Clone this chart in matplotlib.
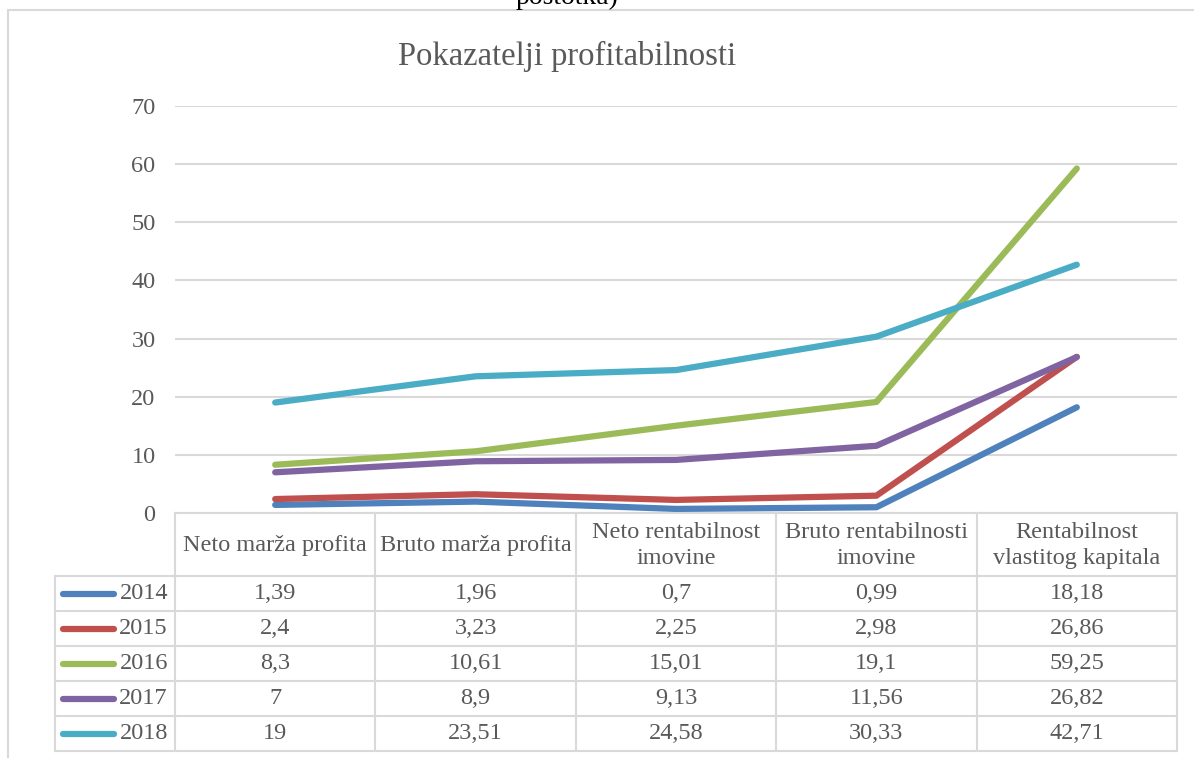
import matplotlib
matplotlib.use("Agg")
import matplotlib.pyplot as plt
from matplotlib.lines import Line2D

# data
categories = ["Neto marža profita", "Bruto marža profita",
              "Neto rentabilnost\nimovine", "Bruto rentabilnosti\nimovine",
              "Rentabilnost\nvlastitog kapitala"]
years = ["2014", "2015", "2016", "2017", "2018"]
v2014 = [1.39, 1.96, 0.7, 0.99, 18.18]
v2015 = [2.4, 3.23, 2.25, 2.98, 26.86]
v2016 = [8.3, 10.61, 15.01, 19.1, 59.25]
v2017 = [7, 8.9, 9.13, 11.56, 26.82]
v2018 = [19, 23.51, 24.58, 30.33, 42.71]
series = [v2014, v2015, v2016, v2017, v2018]
colors = ["#4F81BD", "#C0504D", "#9BBB59", "#8064A2", "#4BACC6"]

W, H = 1194, 758
TXT = "#595959"
GRID = "#D9D9D9"
FS = 17.5
plt.rcParams["font.family"] = ["Liberation Serif", "DejaVu Serif"]

fig = plt.figure(figsize=(W / 100, H / 100), dpi=100)

def fx(px):
    return px / W

def fy(py):
    return 1 - py / H

# plot area
x0, x1, y0, y1 = 175, 1177, 513, 106
ax = fig.add_axes([fx(x0), fy(y0), fx(x1) - fx(x0), fy(y1) - fy(y0)])
xs = list(range(len(categories)))
for vals, c in zip(series, colors):
    ax.plot(xs, vals, color=c, lw=4.5, solid_capstyle="round", solid_joinstyle="round")
ax.set_xlim(-0.5, len(categories) - 0.5)
ax.set_ylim(0, 70)
ax.set_yticks(range(0, 80, 10))
ax.yaxis.grid(True, color=GRID, lw=1.5)
ax.set_axisbelow(True)
ax.set_xticks([])
ax.tick_params(axis="y", length=0, pad=14, labelsize=FS, labelcolor=TXT)
for s in ax.spines.values():
    s.set_visible(False)

# title and clipped caption above
fig.text(fx(567), fy(56), "Pokazatelji profitabilnosti", ha="center", va="center",
         fontsize=23.5, color=TXT)
fig.text(fx(567), fy(4), "postotka)", ha="center", va="baseline", fontsize=20, color="black")

# outer border lines
fig.add_artist(Line2D([fx(8), 1], [fy(10), fy(10)], color=GRID, lw=1.5))
fig.add_artist(Line2D([fx(8), fx(8)], [fy(10), 0], color=GRID, lw=1.5))

# data table
col_w = (x1 - x0) / len(categories)
lab_x = 55
head_top, head_bot = 513, 576
row_h = 35
rows_bot = head_bot + row_h * len(years)

def hline(xa, xb, y):
    fig.add_artist(Line2D([fx(xa), fx(xb)], [fy(y), fy(y)], color=GRID, lw=1.5))

def vline(x, ya, yb):
    fig.add_artist(Line2D([fx(x), fx(x)], [fy(ya), fy(yb)], color=GRID, lw=1.5))

hline(x0, x1, head_top)
for i in range(len(years) + 1):
    hline(lab_x, x1, head_bot + i * row_h)
vline(lab_x, head_bot, rows_bot)
for j in range(len(categories) + 1):
    vline(x0 + j * col_w, head_top, rows_bot)

for j, cat in enumerate(categories):
    fig.text(fx(x0 + (j + 0.5) * col_w), fy((head_top + head_bot) / 2 + 1), cat,
             ha="center", va="center", fontsize=FS, color=TXT, linespacing=1.3)

for i, (yr, vals, c) in enumerate(zip(years, series, colors)):
    yc = head_bot + (i + 0.5) * row_h
    fig.add_artist(Line2D([fx(63), fx(114)], [fy(yc), fy(yc)], color=c, lw=4.5,
                          solid_capstyle="round"))
    fig.text(fx(168), fy(yc), yr, ha="right", va="center", fontsize=FS, color=TXT)
    for j, v in enumerate(vals):
        fig.text(fx(x0 + (j + 0.5) * col_w), fy(yc), "{:g}".format(v).replace(".", ","),
                 ha="center", va="center", fontsize=FS, color=TXT)

fig.savefig("out.png", dpi=100)
